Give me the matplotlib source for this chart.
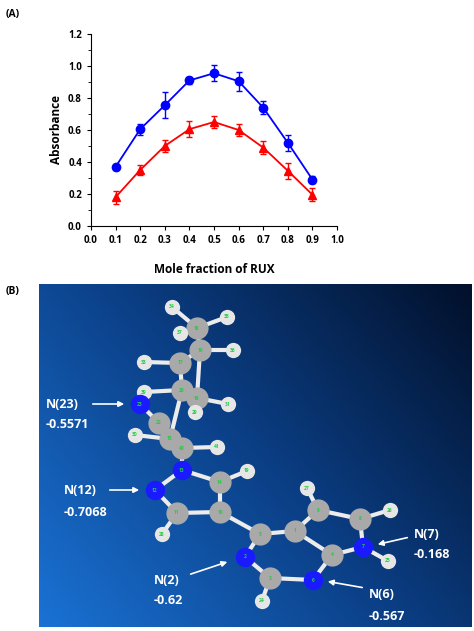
import matplotlib
matplotlib.use("Agg")
import matplotlib.pyplot as plt
import numpy as np
from matplotlib.colors import LinearSegmentedColormap

plt.rcParams["font.family"] = ["Open Sans", "DejaVu Sans"]
plt.rcParams["font.weight"] = "bold"

# panel A data
mole_fraction = [0.1, 0.2, 0.3, 0.4, 0.5, 0.6, 0.7, 0.8, 0.9]
blue_abs = [0.37, 0.605, 0.755, 0.91, 0.955, 0.905, 0.74, 0.52, 0.29]
blue_err = [0.02, 0.035, 0.08, 0.02, 0.05, 0.06, 0.04, 0.05, 0.02]
red_abs = [0.18, 0.35, 0.50, 0.605, 0.65, 0.60, 0.49, 0.345, 0.195]
red_err = [0.04, 0.03, 0.035, 0.05, 0.04, 0.035, 0.04, 0.05, 0.04]

# panel B atoms (image pixel coordinates)
atoms = {
    "34": (172, 307, "H"), "18": (197, 328, "C"), "35": (227, 317, "H"), "37": (180, 333, "H"),
    "19": (200, 350, "C"), "36": (233, 350, "H"), "17": (180, 363, "C"), "33": (144, 362, "H"),
    "20": (182, 390, "C"), "39": (144, 392, "H"), "23": (140, 404, "N"), "16": (197, 398, "C"),
    "29": (195, 412, "H"), "31": (228, 404, "H"), "22": (159, 423, "C"), "30": (135, 435, "H"),
    "15": (170, 439, "C"), "40": (182, 448, "C"), "41": (217, 447, "H"), "13": (182, 470, "N"),
    "12": (155, 490, "N"), "14": (220, 482, "C"), "19b": (247, 471, "H"), "11": (177, 513, "C"),
    "10": (220, 512, "C"), "28": (162, 534, "H"), "5": (260, 534, "C"), "1": (295, 531, "C"),
    "9": (318, 510, "C"), "27": (307, 488, "H"), "8": (360, 519, "C"), "26": (390, 510, "H"),
    "7": (363, 547, "N"), "25": (388, 561, "H"), "4": (332, 555, "C"), "2": (245, 557, "N"),
    "6": (313, 580, "N"), "3": (270, 578, "C"), "24": (262, 601, "H"),
}
bonds = [("18", "34"), ("18", "35"), ("18", "37"), ("18", "19"), ("19", "36"), ("19", "17"),
         ("17", "33"), ("17", "20"), ("19", "16"), ("20", "39"), ("20", "16"), ("16", "31"),
         ("16", "29"), ("20", "15"), ("15", "22"), ("22", "23"), ("15", "30"), ("15", "40"),
         ("40", "41"), ("40", "13"), ("13", "12"), ("13", "14"), ("14", "19b"), ("14", "10"),
         ("10", "11"), ("11", "12"), ("11", "28"), ("10", "5"), ("5", "1"), ("5", "2"),
         ("2", "3"), ("3", "6"), ("3", "24"), ("6", "4"), ("4", "1"), ("1", "9"), ("9", "27"),
         ("9", "8"), ("8", "26"), ("8", "7"), ("7", "4"), ("7", "25")]
charges = [("N(23)", "-0.5571", 46, 404, (90, 404), (127, 404)),
           ("N(12)", "-0.7068", 64, 491, (107, 490), (142, 490)),
           ("N(2)", "-0.62", 154, 580, (188, 575), (230, 561)),
           ("N(6)", "-0.567", 369, 595, (365, 588), (325, 581)),
           ("N(7)", "-0.168", 414, 534, (410, 537), (375, 545))]

fig = plt.figure(figsize=(4.74, 6.31), dpi=100)

# ── panel A ──
ax = fig.add_axes([0.192, 0.642, 0.519, 0.304])
ax.errorbar(mole_fraction, blue_abs, yerr=blue_err, color="#0000ff", marker="o", ms=6,
            lw=1.3, capsize=2, elinewidth=1)
ax.errorbar(mole_fraction, red_abs, yerr=red_err, color="#ff0000", marker="^", ms=6,
            lw=1.3, capsize=2, elinewidth=1)
ax.set_xlim(0, 1.0); ax.set_ylim(0, 1.2)
ax.set_xticks(np.arange(0, 1.01, 0.1)); ax.set_yticks(np.arange(0, 1.21, 0.2))
ax.set_yticks(np.arange(0, 1.21, 0.1), minor=True)
ax.xaxis.set_major_formatter(matplotlib.ticker.FormatStrFormatter("%.1f"))
ax.yaxis.set_major_formatter(matplotlib.ticker.FormatStrFormatter("%.1f"))
ax.tick_params(labelsize=7, length=3, direction="out")
ax.tick_params(which="minor", length=2)
for s in ("top", "right"):
    ax.spines[s].set_visible(False)
ax.set_ylabel("Absorbance", fontsize=8.5, fontweight="bold")
ax.set_xlabel("Mole fraction of RUX", fontsize=8.5, fontweight="bold", labelpad=12)
fig.text(6 / 474, 1 - 14 / 631, "(A)", fontsize=7.5, fontweight="bold", va="center")
fig.text(6 / 474, 1 - 292 / 631, "(B)", fontsize=7.5, fontweight="bold", va="center")

# ── panel B ──
x0, x1, y0, y1 = 39, 472, 284, 627
bx = fig.add_axes([x0 / 474, 1 - y1 / 631, (x1 - x0) / 474, (y1 - y0) / 631])
bx.set_xlim(x0, x1); bx.set_ylim(y1, y0); bx.axis("off")
gx, gy = np.meshgrid(np.linspace(0, 1, 200), np.linspace(0, 1, 200))
grad = (gx * 0.6 + (1 - gy) * 0.4)
cmap = LinearSegmentedColormap.from_list("bg", ["#1a72d4", "#0b3f86", "#02102a"])
bx.imshow(grad, extent=(x0, x1, y1, y0), cmap=cmap, aspect="auto", origin="upper", zorder=0)

for a, b in bonds:
    xa, ya, _ = atoms[a]; xb, yb, _ = atoms[b]
    bx.plot([xa, xb], [ya, yb], color="#ececec", lw=3, zorder=1, solid_capstyle="round")
for name, (x, y, el) in atoms.items():
    if el == "H":
        fc, ms = "#e6e6e6", 11
    elif el == "N":
        fc, ms = "#1a1aff", 14
    else:
        fc, ms = "#a9a9a9", 16
    bx.plot(x, y, "o", ms=ms, mfc=fc, mec="none", zorder=2)
    bx.text(x, y, name.rstrip("b"), fontsize=3.5, color="#22cc44", ha="center", va="center", zorder=3)

for lab, val, tx, ty, p0, p1 in charges:
    bx.text(tx, ty, lab, fontsize=9, color="white", fontweight="bold", va="center")
    bx.text(tx, ty + 21, val, fontsize=9, color="white", fontweight="bold", va="center")
    bx.annotate("", xy=p1, xytext=p0,
                arrowprops=dict(arrowstyle="-|>", color="white", lw=1.2, mutation_scale=8))

fig.savefig("out.png", dpi=100)
